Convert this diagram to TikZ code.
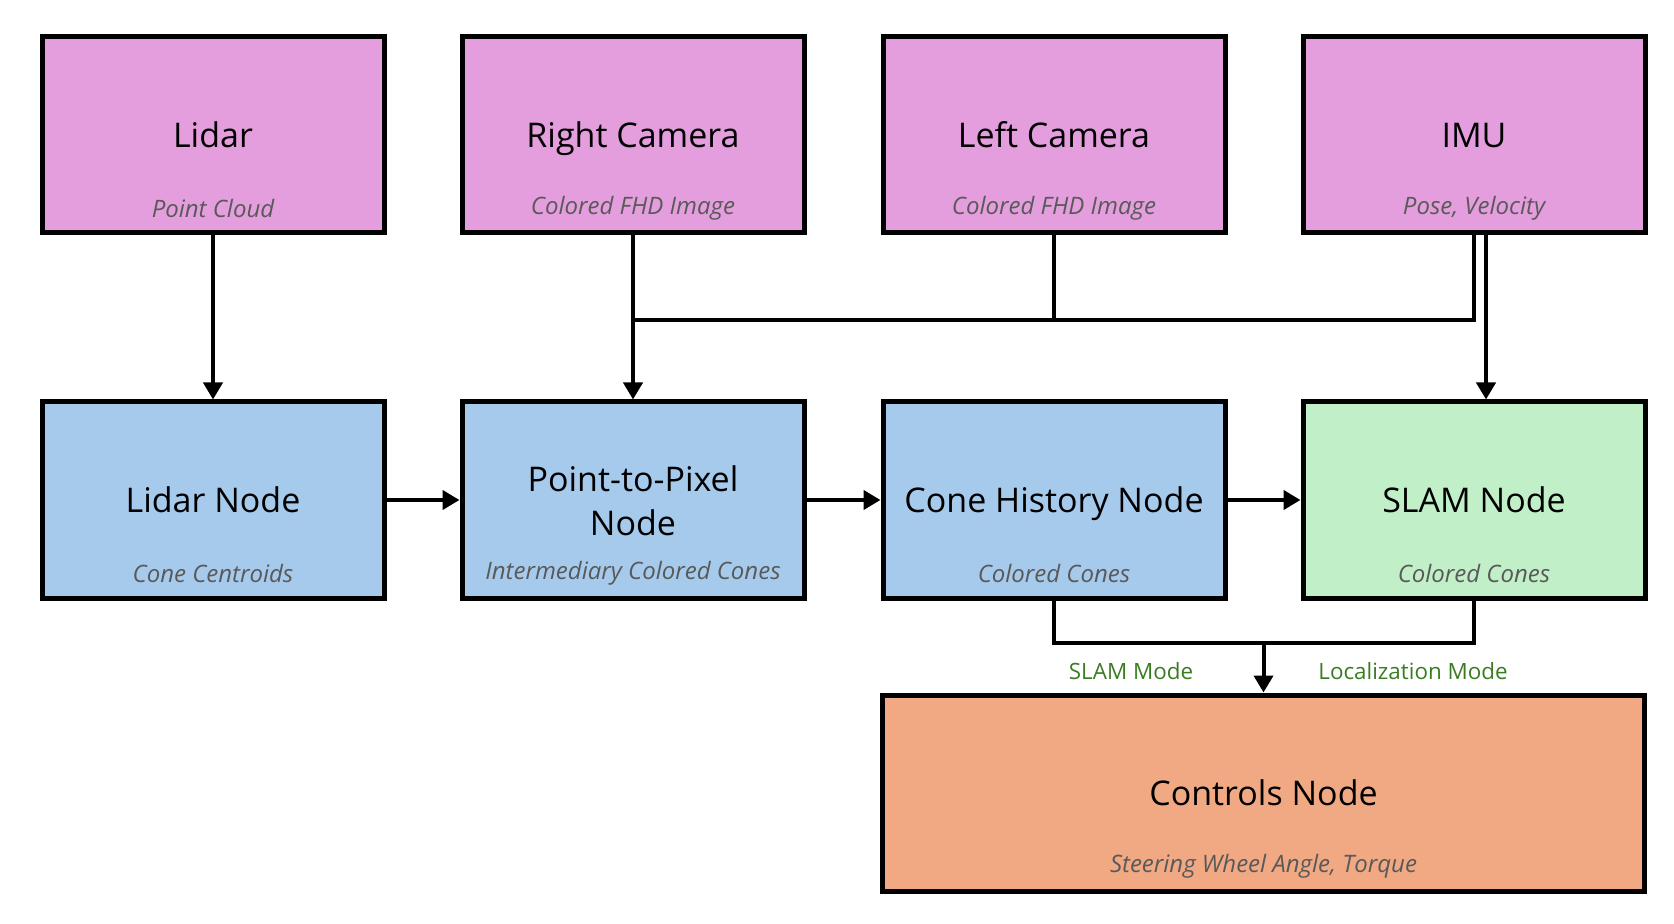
\documentclass[tikz,border=0pt]{standalone}
\usepackage{fontspec}
\setmainfont{Open Sans}
\usetikzlibrary{arrows.meta,calc}
\definecolor{pinkf}{HTML}{E49EDD}
\definecolor{bluef}{HTML}{A6CAEC}
\definecolor{greenf}{HTML}{C1F0C8}
\definecolor{orangef}{HTML}{F1A983}
\definecolor{subgray}{HTML}{595959}
\definecolor{modegreen}{HTML}{3A7C22}
\newcommand\onestrut{\rule[-6pt]{0pt}{24.5pt}}
\newcommand\topstrut{\rule{0pt}{19pt}}
\newcommand\botstrut{\rule[-6pt]{0pt}{6pt}}
\tikzset{
  box/.style={draw=black, line width=2.5pt, minimum width=171pt, minimum height=98pt,
    inner sep=0pt, align=center, font=\fontsize{17}{22}\selectfont},
  sub/.style={font=\fontsize{12}{14}\selectfont\itshape, text=subgray, inner sep=0pt},
  mode/.style={font=\fontsize{11.2}{13}\selectfont, text=modegreen, inner sep=0pt},
  conn/.style={line width=2pt},
  arr/.style={line width=2pt, -{Triangle[width=9.5pt,length=8.5pt]}},
}
\begin{document}
\begin{tikzpicture}[x=0.5pt,y=-0.5pt]
\useasboundingbox (0,0) rectangle (1674,924);
% row 1
\node[box, fill=pinkf] (lidar) at (213,135) {\onestrut Lidar};
\node[box, fill=pinkf] (rcam) at (633,135) {\onestrut Right Camera};
\node[box, fill=pinkf] (lcam) at (1054,135) {\onestrut Left Camera};
\node[box, fill=pinkf] (imu) at (1474,135) {\onestrut IMU};
% row 2
\node[box, fill=bluef] (lnode) at (213,500) {\onestrut Lidar Node};
\node[box, fill=bluef] (p2p) at (633,500) {\topstrut Point-to-Pixel\\Node\botstrut};
\node[box, fill=bluef] (chist) at (1054,500) {\onestrut Cone History Node};
\node[box, fill=greenf] (slam) at (1474,500) {\onestrut SLAM Node};
% controls
\node[box, fill=orangef, minimum width=381pt] (ctrl) at (1263.5,793) {\onestrut Controls Node};
% subtitles
\node[sub] (lidarsub) at ($(lidar.south)+(0,-27)$) {Point Cloud};
\node[sub] (rcamsub) at ($(rcam.south)+(0,-27)$) {Colored FHD Image};
\node[sub] (lcamsub) at ($(lcam.south)+(0,-27)$) {Colored FHD Image};
\node[sub] (imusub) at ($(imu.south)+(0,-27)$) {Pose, Velocity};
\node[sub] (lnodesub) at ($(lnode.south)+(0,-27)$) {Cone Centroids};
\node[sub] (p2psub) at ($(p2p.south)+(0,-27)$) {Intermediary Colored Cones};
\node[sub] (chistsub) at ($(chist.south)+(0,-27)$) {Colored Cones};
\node[sub] (slamsub) at ($(slam.south)+(0,-27)$) {Colored Cones};
\node[sub] (ctrlsub) at ($(ctrl.south)+(0,-27)$) {Steering Wheel Angle, Torque};
% connectors
\draw[arr] (lidar.south) -- (lnode.north);
\draw[arr] (rcam.south) -- (p2p.north);
\coordinate (j1) at ($(rcam.south)+(0,85)$);
\draw[conn] (lcam.south) |- (j1);
\draw[conn] (imu.south) |- (j1);
\draw[arr] ($(imu.south)+(12,0)$) -- ($(slam.north)+(12,0)$);
\draw[arr] (lnode.east) -- (p2p.west);
\draw[arr] (p2p.east) -- (chist.west);
\draw[arr] (chist.east) -- (slam.west);
\coordinate (j2) at ($(ctrl.north)+(0,-50)$);
\draw[conn] (chist.south) |- (j2) -| (slam.south);
\draw[arr] (j2) -- (ctrl.north);
\node[mode] (slammode) at (1131,671) {SLAM Mode};
\node[mode] (locmode) at (1413,671) {Localization Mode};
\end{tikzpicture}
\end{document}
